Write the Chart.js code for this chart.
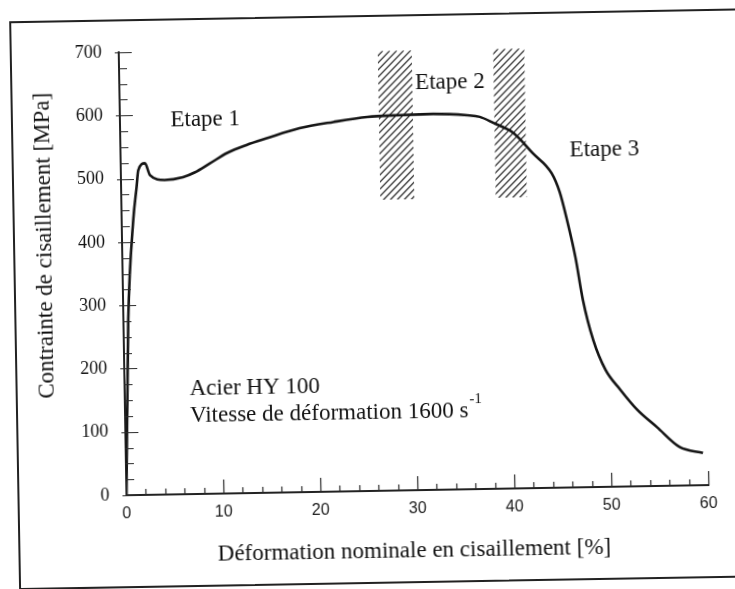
<!DOCTYPE html>
<html>
<head>
<meta charset="utf-8">
<script src="https://cdn.jsdelivr.net/npm/chart.js@4.4.0/dist/chart.umd.min.js"></script>
<style>
  html, body { margin: 0; padding: 0; background: #fff; overflow: hidden; }
  #wrap { position: relative; width: 735px; height: 589px; transform: rotate(-1deg); transform-origin: 50% 50%; }
  #frame { position: absolute; left: 14px; top: 15px; width: 745px; height: 569px; border: 2px solid #222; box-sizing: border-box; }
  canvas { position: absolute; left: 0; top: 0; }
</style>
</head>
<body>
<div id="wrap">
  <div id="frame"></div>
  <canvas id="myChart" width="735" height="589"></canvas>
</div>
<script>
// courbe contrainte / deformation
const strain = [0, 0.5, 1.2, 1.6, 1.8, 2.5, 3.0, 4.5, 6.4, 7.6, 9.2, 11.0, 13.0, 15.1, 18.5, 22.0, 25.5, 28.9, 32.3, 35.8, 37.1, 38.5, 40.5, 42.5, 44.4, 45.2, 45.9, 46.7, 47.4, 48.4, 49.6, 51.1, 52.8, 54.8, 57.1, 59.5]
const stress = [0, 277, 435, 487, 513, 524, 505, 497, 501, 508, 522, 538, 550, 560, 575, 584, 591, 593, 594, 591, 588, 578, 562, 529, 497, 467, 423, 364, 296, 232, 185, 153, 121, 93, 61, 51]

const xTicks = [0, 10, 20, 30, 40, 50, 60]
const yTicks = [0, 100, 200, 300, 400, 500, 600, 700]

// zones hachurees (Etape 2)
const bandStart = [26.7, 38.6]
const bandEnd = [30.2, 41.8]
const bandLow = 460
const bandHigh = 695

// textes dans le graphique
const noteText = ['Etape 1', 'Etape 2', 'Etape 3', 'Acier HY 100', 'Vitesse de déformation 1600 s']
const noteX = [5.2, 30.5, 46.3, 6.7, 6.7]
const noteY = [591, 643, 533, 166, 123]

const xTitle = 'Déformation nominale en cisaillement [%]'
const yTitle = 'Contrainte de cisaillement [MPa]'

const ink = '#111'
const serif = '"Liberation Serif", "Times New Roman", serif'

const decor = {
    id: 'decor',
    beforeDatasetsDraw(chart) {
        const ctx = chart.ctx
        const xs = chart.scales.x, ys = chart.scales.y
        const yT = ys.getPixelForValue(bandHigh), yB = ys.getPixelForValue(bandLow)
        const h = yB - yT
        ctx.save()
        ctx.strokeStyle = '#2a2a2a'
        ctx.lineWidth = 1.3
        for (let b = 0; b < bandStart.length; b++) {
            const x0 = xs.getPixelForValue(bandStart[b]), x1 = xs.getPixelForValue(bandEnd[b])
            ctx.save()
            ctx.beginPath()
            ctx.rect(x0, yT, x1 - x0, h)
            ctx.clip()
            ctx.beginPath()
            for (let k = 0; k < h + (x1 - x0) + 10; k += 7) {
                ctx.moveTo(x0 - 2, yT + k)
                ctx.lineTo(x0 - 2 + k, yT)
            }
            ctx.stroke()
            ctx.restore()
        }
        ctx.restore()
    },
    afterDraw(chart) {
        const ctx = chart.ctx
        const xs = chart.scales.x, ys = chart.scales.y
        const a = chart.chartArea
        ctx.save()
        // petites graduations vers l'interieur
        ctx.strokeStyle = '#2a2a2a'
        ctx.lineWidth = 1.2
        ctx.beginPath()
        for (let v = 0; v <= 700; v += 25) {
            const y = Math.round(ys.getPixelForValue(v)) + 0.5
            if (v % 100 === 0) { ctx.moveTo(a.left - 4, y); ctx.lineTo(a.left + 13, y) }
            else { ctx.moveTo(a.left - 1, y); ctx.lineTo(a.left + 8, y) }
        }
        for (let v = 0; v <= 60; v += 2) {
            const x = Math.round(xs.getPixelForValue(v)) + 0.5
            ctx.moveTo(x, a.bottom)
            ctx.lineTo(x, a.bottom - (v % 10 === 0 ? 14 : 6))
        }
        ctx.stroke()

        ctx.fillStyle = ink
        ctx.font = '23px ' + serif
        ctx.textBaseline = 'middle'
        ctx.textAlign = 'left'
        noteText.forEach((t, i) => {
            const x = xs.getPixelForValue(noteX[i]), y = ys.getPixelForValue(noteY[i])
            ctx.fillText(t, x, y)
            if (i === noteText.length - 1) {
                const w = ctx.measureText(t).width
                ctx.font = '15px ' + serif
                ctx.fillText('-1', x + w + 1, y - 12)
                ctx.font = '23px ' + serif
            }
        })

        // titres des axes
        ctx.textAlign = 'center'
        ctx.fillText(xTitle, (a.left + a.right) / 2 - 4, a.bottom + 61)
        ctx.translate(a.left - 77, a.top + 192)
        ctx.rotate(-Math.PI / 2)
        ctx.fillText(yTitle, 0, 0)
        ctx.restore()
    }
}

const ctx = document.getElementById('myChart').getContext('2d')
const myChart = new Chart(ctx, {
    type: 'line',
    data: {
        datasets: [{
            data: strain.map((x, i) => ({ x: x, y: stress[i] })),
            borderColor: '#151515',
            borderWidth: 2.6,
            pointRadius: 0,
            fill: false,
            cubicInterpolationMode: 'monotone'
        }]
    },
    options: {
        animation: false,
        responsive: false,
        layout: { padding: { top: 48, right: 30, left: 0, bottom: 0 } },
        plugins: { legend: { display: false }, tooltip: { enabled: false } },
        scales: {
            x: {
                type: 'linear',
                min: 0, max: 60,
                afterFit: s => { s.height = 98 },
                afterBuildTicks: s => { s.ticks = xTicks.map(v => ({ value: v })) },
                grid: { display: false, drawTicks: false },
                border: { color: '#222', width: 2 },
                ticks: { color: '#1a1a1a', padding: 9, font: { family: '"Liberation Sans", Arial, sans-serif', size: 16 } }
            },
            y: {
                min: 0, max: 700,
                afterFit: s => { s.width = 123 },
                afterBuildTicks: s => { s.ticks = yTicks.map(v => ({ value: v })) },
                grid: { display: false, drawTicks: false },
                border: { color: '#222', width: 2 },
                ticks: { color: '#111', padding: 17, font: { family: serif, size: 18 } }
            }
        }
    },
    plugins: [decor]
})
</script>
</body>
</html>
